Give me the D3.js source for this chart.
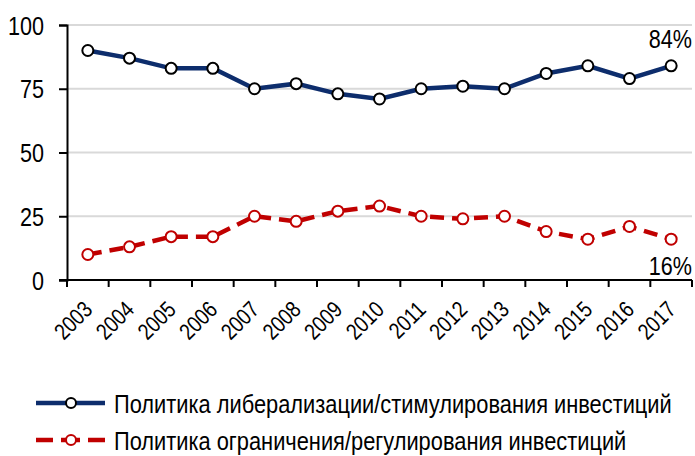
<!DOCTYPE html>
<html lang="ru">
<head>
<meta charset="utf-8">
<title>Политика в отношении инвестиций</title>
<style type="text/css">
body
{
   margin: 0;
   background: #fff;
}
text
{
   font-family: "Liberation Sans", Arial, sans-serif;
   fill: #000;
}
.grid line
{
   stroke: #d9d9d9;
   stroke-width: 2;
}
</style>
<script type="text/javascript" src="https://cdn.jsdelivr.net/npm/d3@7/dist/d3.min.js"></script>
</head>

<body>

<script type="text/javascript">
var w = 695;
var h = 456;

var years = ["2003","2004","2005","2006","2007","2008","2009","2010",
             "2011","2012","2013","2014","2015","2016","2017"];
var liberal = [90, 87, 83, 83, 75, 77, 73, 71, 75, 76, 75, 81, 84, 79, 84];
var restrict = [10, 13, 17, 17, 25, 23, 27, 29, 25, 24, 25, 19, 16, 21, 16];
var yTicks = [0, 25, 50, 75, 100];
var seriesNames = ["Политика либерализации/стимулирования инвестиций",
                   "Политика ограничения/регулирования инвестиций"];

var mLeft = 67, mRight = 692, mTop = 25, mBottom = 280;
var narrow = 0.83;   // no Arial Narrow here, so squeeze Liberation Sans
var blue = "#0d2d6c", red = "#c00000";

var svg = d3.select("body")
            .append("svg")
            .attr("width", w)
            .attr("height", h);

var x = d3.scaleBand().domain(years).range([mLeft, mRight]);
var y = d3.scaleLinear().domain([0, 100]).range([mBottom, mTop]);

// gridlines
svg.append("g")
   .attr("class", "grid")
   .selectAll("line")
   .data(yTicks.slice(1))
   .enter()
   .append("line")
   .attr("x1", mLeft)
   .attr("x2", mRight)
   .attr("y1", function(d){ return y(d); })
   .attr("y2", function(d){ return y(d); });

// y axis
var yAxis = svg.append("g")
   .attr("transform", "translate(" + mLeft + ",0)")
   .call(d3.axisLeft(y).tickValues(yTicks).tickSize(8));
yAxis.attr("font-family", null).attr("font-size", null);
yAxis.select(".domain").attr("stroke", "#000").attr("stroke-width", 2);
yAxis.selectAll(".tick line").attr("stroke", "#000").attr("stroke-width", 2);
yAxis.selectAll(".tick text")
   .attr("x", 0)
   .attr("dy", "0.35em")
   .attr("transform", "translate(-23,0) scale(" + narrow + ",1)")
   .style("font-size", "26px");

// x axis, ticks at band edges
var xAxis = svg.append("g")
   .attr("transform", "translate(0," + mBottom + ")");
xAxis.append("line")
   .attr("x1", mLeft - 8).attr("x2", mRight)
   .attr("stroke", "#000").attr("stroke-width", 2);
xAxis.selectAll(".xt")
   .data(years.concat(["end"]))
   .enter()
   .append("line")
   .attr("class", "xt")
   .attr("x1", function(d, i){ return mLeft + i * x.bandwidth(); })
   .attr("x2", function(d, i){ return mLeft + i * x.bandwidth(); })
   .attr("y1", 0).attr("y2", 7)
   .attr("stroke", "#000").attr("stroke-width", 2);
xAxis.selectAll(".xl")
   .data(years)
   .enter()
   .append("text")
   .attr("class", "xl")
   .attr("text-anchor", "end")
   .style("font-size", "23px")
   .attr("transform", function(d){
        return "translate(" + (x(d) + x.bandwidth() / 2 + 6) + ",31) rotate(-45) scale(" + narrow + ",1)";
   })
   .text(function(d){ return d; });

function cx(d, i){ return x(years[i]) + x.bandwidth() / 2; }

var line = d3.line()
   .x(function(d, i){ return cx(d, i); })
   .y(function(d){ return y(d); });

svg.append("path")
   .datum(restrict)
   .attr("d", line)
   .attr("fill", "none")
   .attr("stroke", red)
   .attr("stroke-width", 4.5)
   .attr("stroke-dasharray", "14,8");

svg.append("path")
   .datum(liberal)
   .attr("d", line)
   .attr("fill", "none")
   .attr("stroke", blue)
   .attr("stroke-width", 4.5);

svg.selectAll(".mr")
   .data(restrict)
   .enter()
   .append("circle")
   .attr("cx", cx)
   .attr("cy", function(d){ return y(d); })
   .attr("r", 5.5)
   .attr("fill", "#fff")
   .attr("stroke", red)
   .attr("stroke-width", 2);

svg.selectAll(".ml")
   .data(liberal)
   .enter()
   .append("circle")
   .attr("cx", cx)
   .attr("cy", function(d){ return y(d); })
   .attr("r", 5.5)
   .attr("fill", "#fff")
   .attr("stroke", "#000")
   .attr("stroke-width", 2);

// end labels
svg.append("text")
   .attr("text-anchor", "end")
   .attr("transform", "translate(" + mRight + ",48) scale(" + narrow + ",1)")
   .style("font-size", "26px")
   .text(liberal[liberal.length - 1] + "%");
svg.append("text")
   .attr("text-anchor", "end")
   .attr("transform", "translate(" + mRight + ",275) scale(" + narrow + ",1)")
   .style("font-size", "26px")
   .text(restrict[restrict.length - 1] + "%");

// legend
var leg = [
  {name: seriesNames[0], color: blue, dash: null, mark: "#000", yy: 403},
  {name: seriesNames[1], color: red, dash: "17,8,19,8,17", mark: red, yy: 440}
];
var lg = svg.selectAll(".leg")
   .data(leg)
   .enter()
   .append("g")
   .attr("transform", function(d){ return "translate(0," + d.yy + ")"; });
lg.append("line")
   .attr("x1", 36).attr("x2", 105)
   .attr("stroke", function(d){ return d.color; })
   .attr("stroke-width", 4.5)
   .attr("stroke-dasharray", function(d){ return d.dash; });
lg.append("circle")
   .attr("cx", 71).attr("r", 5)
   .attr("fill", "#fff")
   .attr("stroke", function(d){ return d.mark; })
   .attr("stroke-width", 2);
lg.append("text")
   .attr("transform", "translate(114,10) scale(0.84,1)")
   .style("font-size", "26px")
   .text(function(d){ return d.name; });
</script>
</body>
</html>
